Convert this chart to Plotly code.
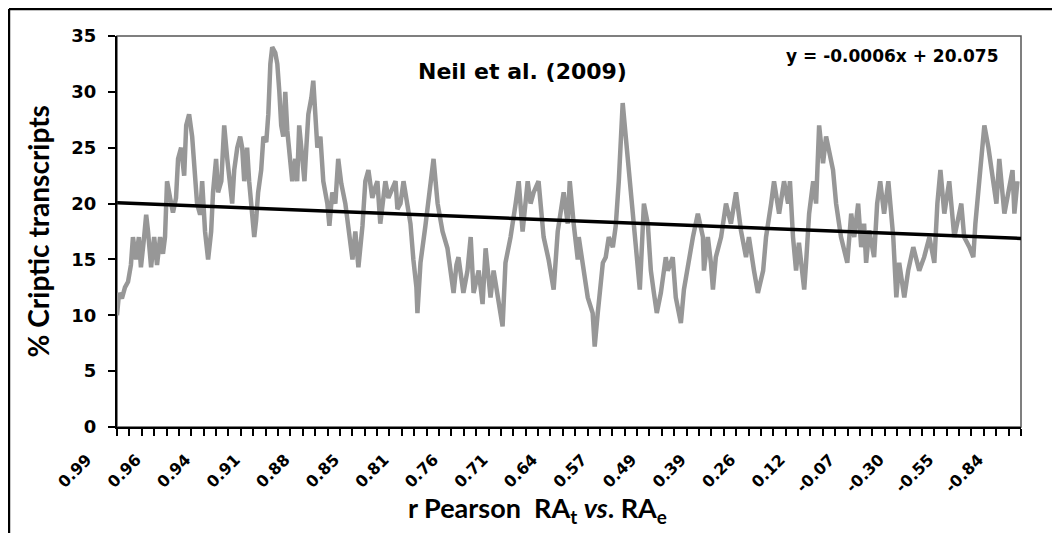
import plotly.graph_objects as go

# ---- data (sliding-window position, % cryptic transcripts)
window_pos = [
    0, 12, 29, 47, 65, 82, 94, 112, 129, 141,
    160, 172, 183, 201, 219, 236, 254, 271, 283, 295,
    313, 330, 348, 360, 378, 396, 408, 425, 443, 461,
    472, 490, 502, 519, 537, 555, 566, 584, 596, 615,
    632, 650, 662, 679, 691, 709, 726, 738, 750, 767,
    779, 797, 809, 820, 832, 850, 863, 880, 892, 904,
    915, 933, 945, 957, 968, 980, 992, 1004, 1021, 1033,
    1051, 1062, 1074, 1092, 1105, 1116, 1128, 1146, 1157, 1169,
    1181, 1199, 1216, 1240, 1252, 1269, 1287, 1304, 1322, 1346,
    1364, 1388, 1405, 1423, 1447, 1464, 1482, 1505, 1523, 1535,
    1552, 1570, 1582, 1600, 1624, 1642, 1653, 1671, 1689, 1712,
    1730, 1747, 1765, 1771, 1789, 1818, 1836, 1854, 1866, 1878,
    1890, 1919, 1948, 1966, 1984, 2001, 2013, 2042, 2066, 2085,
    2102, 2132, 2155, 2173, 2190, 2202, 2220, 2249, 2273, 2290,
    2320, 2350, 2368, 2391, 2421, 2438, 2456, 2485, 2515, 2544,
    2574, 2598, 2633, 2657, 2669, 2692, 2716, 2722, 2745, 2775,
    2804, 2816, 2834, 2864, 2881, 2899, 2923, 2940, 2958, 2970,
    2981, 2999, 3017, 3040, 3052, 3071, 3082, 3094, 3106, 3129,
    3147, 3165, 3182, 3206, 3235, 3247, 3276, 3294, 3324, 3342,
    3366, 3395, 3424, 3454, 3460, 3483, 3501, 3513, 3530, 3561,
    3590, 3619, 3649, 3678, 3708, 3725, 3755, 3778, 3809, 3826,
    3856, 3873, 3903, 3932, 3956, 3967, 3985, 4003, 4020, 4051,
    4062, 4080, 4104, 4121, 4139, 4162, 4180, 4198, 4221, 4239,
    4268, 4305, 4328, 4346, 4369, 4387, 4404, 4416, 4434, 4463,
    4481, 4499, 4522, 4547, 4576, 4594, 4611, 4641, 4664, 4694,
    4729, 4758, 4789, 4818, 4836, 4854, 4877, 4906, 4936, 4977,
    4994, 5025, 5048, 5060, 5084, 5113, 5137, 5166, 5184, 5201,
    5231, 5279, 5290, 5308,
]
pct_cryptic = [
    10.0, 12.0, 11.5, 12.5, 13.0, 14.5, 17.0, 15.0, 17.0, 14.3,
    17.0, 19.0, 17.5, 14.3, 17.0, 14.5, 17.0, 15.5, 17.0, 22.0,
    20.5, 19.2, 20.5, 24.0, 25.0, 22.5, 27.0, 28.0, 26.0, 22.0,
    20.0, 19.0, 22.0, 17.5, 15.0, 17.5, 21.0, 24.0, 21.0, 22.0,
    27.0, 24.0, 22.0, 20.0, 23.0, 25.0, 26.0, 25.0, 22.0, 25.0,
    22.0, 19.0, 17.0, 18.5, 21.0, 23.0, 26.0, 25.5, 28.0, 32.5,
    34.0, 33.5, 32.5, 30.0, 27.0, 26.0, 30.0, 26.5, 24.0, 22.0,
    24.0, 22.0, 27.0, 24.0, 22.0, 25.0, 28.0, 29.5, 31.0, 28.0,
    25.0, 26.0, 22.0, 20.0, 18.0, 21.0, 20.0, 24.0, 21.8, 20.0,
    18.0, 15.0, 17.5, 14.3, 18.0, 22.0, 23.0, 20.5, 21.5, 22.0,
    18.2, 20.5, 22.0, 20.5, 21.5, 22.0, 19.5, 20.0, 22.0, 20.0,
    18.2, 15.0, 12.5, 10.2, 14.7, 18.0, 20.0, 22.0, 24.0, 22.0,
    20.0, 17.5, 16.0, 14.0, 12.0, 14.5, 15.2, 12.0, 14.0, 17.0,
    12.0, 14.0, 11.0, 16.0, 13.5, 11.6, 14.0, 11.0, 9.0, 14.7,
    17.0, 20.0, 22.0, 17.5, 22.0, 20.0, 21.0, 22.0, 17.0, 15.0,
    12.3, 17.5, 21.0, 18.2, 22.0, 18.2, 15.0, 17.0, 14.7, 11.6,
    10.2, 7.2, 10.2, 14.7, 15.2, 17.0, 16.1, 18.0, 22.0, 26.6,
    29.0, 26.0, 23.0, 20.0, 18.2, 14.0, 12.3, 16.1, 20.0, 18.2,
    14.0, 12.0, 10.2, 12.0, 15.2, 14.0, 15.2, 11.6, 9.3, 12.3,
    14.7, 17.0, 19.1, 17.0, 14.0, 17.0, 14.7, 12.3, 15.2, 17.0,
    20.0, 18.2, 21.0, 17.6, 15.2, 17.0, 14.0, 12.0, 14.0, 17.0,
    20.0, 22.0, 19.1, 22.0, 20.0, 22.0, 17.0, 14.0, 16.5, 12.3,
    14.7, 19.1, 22.0, 20.0, 27.0, 23.6, 26.0, 24.5, 23.0, 20.0,
    17.0, 14.7, 19.1, 17.0, 20.0, 16.1, 18.2, 14.7, 17.6, 15.2,
    20.0, 22.0, 19.1, 22.0, 17.0, 11.6, 14.7, 11.6, 14.0, 16.1,
    14.0, 15.2, 17.0, 14.7, 20.0, 23.0, 19.1, 22.0, 17.0, 20.0,
    17.0, 16.1, 15.2, 18.2, 22.0, 27.0, 25.0, 22.0, 20.0, 24.0,
    19.1, 23.0, 19.1, 22.0,
]

n_windows = 5329
tick_step = 73
label_every = 4
x_labels = ["0.99", "0.96", "0.94", "0.91", "0.88", "0.85", "0.81", "0.76",
            "0.71", "0.64", "0.57", "0.49", "0.39", "0.26", "0.12", "-0.07",
            "-0.30", "-0.55", "-0.84"]
y_ticks = [0, 5, 10, 15, 20, 25, 30, 35]
trend_slope = -0.0006
trend_intercept = 20.075

tickvals = list(range(0, n_windows + 1, tick_step))
ticktext = []
for i, v in enumerate(tickvals):
    if i % label_every == 0 and i // label_every < len(x_labels):
        ticktext.append(x_labels[i // label_every])
    else:
        ticktext.append(" ")

trend_x = [1, n_windows]
trend_y = [trend_slope * x + trend_intercept for x in trend_x]

fig = go.Figure()
fig.add_trace(go.Scatter(x=window_pos, y=pct_cryptic, mode="lines",
                         line=dict(color="#979797", width=4.5),
                         showlegend=False, hoverinfo="skip"))
fig.add_trace(go.Scatter(x=trend_x, y=trend_y, mode="lines",
                         line=dict(color="black", width=3.5),
                         showlegend=False, hoverinfo="skip"))

fig.update_layout(
    width=1060, height=533,
    margin=dict(l=109, r=47, t=28, b=114),
    paper_bgcolor="white", plot_bgcolor="white",
    showlegend=False,
    xaxis=dict(range=[0, n_windows], tickmode="array", tickvals=tickvals,
               ticktext=ticktext, tickangle=-45, ticks="outside", ticklen=7,
               tickwidth=1.5, tickcolor="black", showline=True, linecolor="black",
               linewidth=2, showgrid=False, zeroline=False,
               ticklabelshift=-30, ticklabelstandoff=8,
               tickfont=dict(family="DejaVu Sans", size=16, color="black", weight="bold")),
    yaxis=dict(range=[0, 35], tickmode="array", tickvals=y_ticks, ticks="outside",
               ticklen=7, tickwidth=1.5, tickcolor="black", showline=True,
               linecolor="black", linewidth=2, showgrid=False, zeroline=False,
               ticklabelstandoff=8,
               tickfont=dict(family="DejaVu Sans", size=18, color="black", weight="bold")),
    shapes=[
        dict(type="rect", xref="paper", yref="paper", x0=0, x1=1, y0=0, y1=1,
             line=dict(color="#555555", width=1.5), layer="below"),
        dict(type="line", xref="paper", yref="paper", x0=-0.1195, x1=1.06,
             y0=1.069, y1=1.069, line=dict(color="black", width=2.5)),
        dict(type="line", xref="paper", yref="paper", x0=-0.1195, x1=-0.1195,
             y0=1.069, y1=-0.35, line=dict(color="black", width=2.5)),
    ],
    annotations=[
        dict(text="Neil et al. (2009)", xref="paper", yref="paper", x=0.4485, y=0.908,
             showarrow=False, xanchor="center", yanchor="middle",
             font=dict(family="DejaVu Sans", size=22, color="black", weight="bold")),
        dict(text="y = -0.0006x + 20.075", xref="paper", yref="paper", x=0.857, y=0.95,
             showarrow=False, xanchor="center", yanchor="middle",
             font=dict(family="DejaVu Sans", size=17, color="black", weight="bold")),
        dict(text="% Criptic transcripts", xref="paper", yref="paper", x=-0.0875, y=0.5,
             textangle=-90, showarrow=False, xanchor="center", yanchor="middle",
             font=dict(family="Lato", size=28, color="black", weight="bold")),
        dict(text="r Pearson  RA<sub>t</sub> <i>vs</i>. RA<sub>e</sub>", xref="paper",
             yref="paper", x=0.465, y=-0.212, showarrow=False, xanchor="center",
             yanchor="middle",
             font=dict(family="Lato", size=27, color="black", weight="bold")),
    ],
)

fig.write_html("out.html")
